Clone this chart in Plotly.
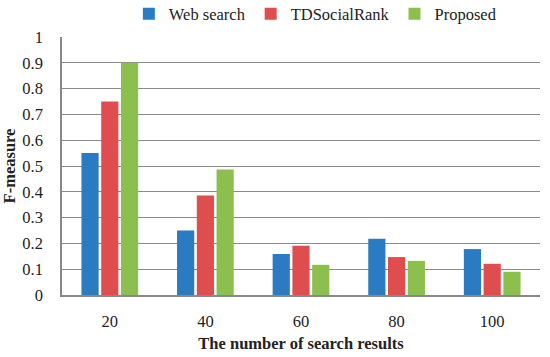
import plotly.graph_objects as go

categories = ["20", "40", "60", "80", "100"]
web_search = [0.55, 0.25, 0.159, 0.218, 0.178]
td_social_rank = [0.75, 0.386, 0.191, 0.147, 0.121]
proposed = [0.90, 0.486, 0.117, 0.132, 0.090]
y_ticks = [0, 0.1, 0.2, 0.3, 0.4, 0.5, 0.6, 0.7, 0.8, 0.9, 1]
y_tick_labels = ["0", "0.1", "0.2", "0.3", "0.4", "0.5", "0.6", "0.7", "0.8", "0.9", "1"]

FONT = "Palatino Linotype, Book Antiqua, Palatino, Liberation Serif, serif"

fig = go.Figure()
for name, vals, col in [("Web search", web_search, "#2a7bc1"),
                        ("TDSocialRank", td_social_rank, "#e04d4f"),
                        ("Proposed", proposed, "#8cbf4e")]:
    fig.add_trace(go.Bar(x=categories, y=vals, name=name, marker_color=col,
                         marker_line_width=0))

fig.update_layout(
    width=550, height=357,
    margin=dict(l=62, r=10, t=37, b=62, autoexpand=False),
    paper_bgcolor="white", plot_bgcolor="white",
    barmode="group", bargap=0.38, bargroupgap=0.13,
    font=dict(family=FONT, size=16.5, color="#222"),
    legend=dict(orientation="h", x=0.53, xanchor="center",
                yref="container", y=1 - 14 / 357, yanchor="middle",
                font=dict(size=16.5), itemwidth=30, tracegroupgap=0,
                bgcolor="rgba(0,0,0,0)"),
    showlegend=True,
)
fig.update_xaxes(
    title=dict(text="<b>The number of search results</b>", font=dict(size=16.5), standoff=8),
    showline=True, linecolor="#888", linewidth=1.5, ticks="", tickfont=dict(size=16.5),
    ticklabelstandoff=10, automargin=False,
)
fig.update_yaxes(
    title=dict(text="<b>F-measure</b>", font=dict(size=16.5), standoff=14),
    range=[0, 1], tickvals=y_ticks, ticktext=y_tick_labels,
    showgrid=True, gridcolor="#8a8a8a", gridwidth=1.2,
    showline=True, linecolor="#888", linewidth=1.5, zeroline=False,
    tickfont=dict(size=16.5), ticklabelstandoff=14, automargin=False,
)
fig.write_html("out.html", config={"displayModeBar": False},
               post_script="document.body.style.margin='0px';")
